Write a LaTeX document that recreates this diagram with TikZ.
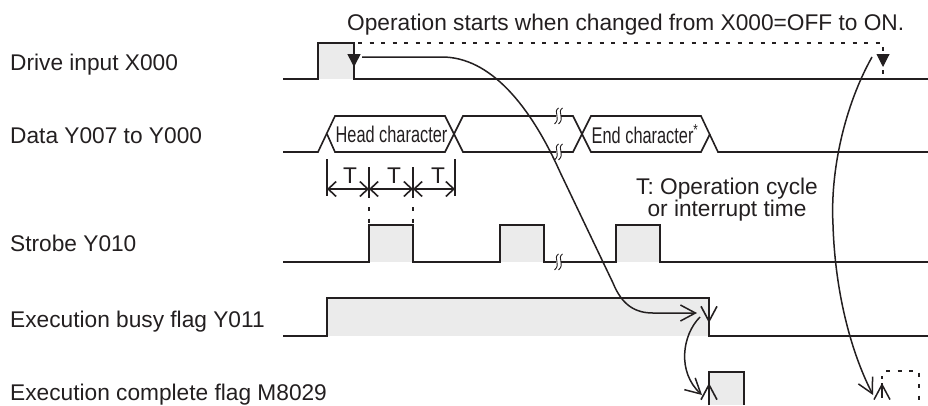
\documentclass[tikz,border=0pt]{standalone}
\usepackage{fontspec}
\setmainfont{Liberation Sans}
\usetikzlibrary{arrows.meta}
\definecolor{ink}{HTML}{231F20}
\definecolor{pulse}{HTML}{EBEBEB}
\tikzset{>={Straight Barb[length=15pt,width=16pt]}}

\begin{document}
\begin{tikzpicture}[x=1pt, y=-1pt, ink, font=\fontsize{22.7}{22}\selectfont]

  \tikzset{wave/.style={draw=ink, line width=1.6pt, line join=miter},
           flow/.style={draw=ink, line width=1.5pt},
           dots/.style={draw=ink, line width=1.3pt, dash pattern=on 4pt off 7.5pt},
           lbl/.style={anchor=base west, inner sep=0pt},
           narrow/.style={inner sep=0pt, xscale=0.72, transform shape},
           dim/.style={wave, {Straight Barb[length=8pt,width=15pt]}-{Straight Barb[length=8pt,width=15pt]}}}

  \useasboundingbox (0,0) rectangle (928,405);

  % grey pulses first, the levels go on top
  \foreach \xa/\xb/\ya/\yb in {318/354/43/79, 369/413/225/262, 500/544/225/262,
                               616/660/225/262, 327/709/298/336, 709/744/372/405} {
    \fill[pulse] (\xa,\ya) rectangle (\xb,\yb);
  }

  % signal names
  \node[lbl] (drive) at (10,70.5) {Drive input X000};
  \node[lbl] (data) at (10,143) {Data Y007 to Y000};
  \node[lbl] (strobe) at (10,251) {Strobe Y010};
  \node[lbl] (busy) at (10,327) {Execution busy flag Y011};
  \node[lbl] (done) at (10,400) {Execution complete flag M8029};

  % levels
  \draw[wave] (283,79) -- (318,79) -- (318,43) -- (354,43) -- (354,79) -- (928,79);
  \draw[wave] (283,262) -- (369,262) -- (369,225) -- (413,225) -- (413,262) -- (500,262)
    -- (500,225) -- (544,225) -- (544,262) -- (616,262) -- (616,225) -- (660,225)
    -- (660,262) -- (928,262);
  \draw[wave] (283,336) -- (327,336) -- (327,298) -- (709,298) -- (709,336) -- (928,336);
  \draw[wave] (709,405) -- (709,372) -- (744,372) -- (744,405);

  % data bus
  \draw[wave] (283,152) -- (318,152) -- (335,116) -- (445,116) -- (463,152) -- (573,152)
    -- (591,116) -- (701,116) -- (718,152) -- (928,152);
  \draw[wave] (327,134) -- (335,152) -- (445,152) -- (463,116) -- (573,116) -- (591,152)
    -- (701,152) -- (710,134);
  \node[narrow] (head) at (391.5,134) {Head character};
  \node[narrow] (tail) at (645,134) {End character\textsuperscript{*}};

  % the breaks
  \foreach \y in {116,152,262} {
    \fill[white] (556,\y-8) rectangle (561,\y+8);
    \foreach \d in {-2,2} {
      \draw[line width=0.9pt] (558.5+\d+2,\y-8) .. controls (558.5+\d-4,\y-4) and (558.5+\d+5,\y+2) .. (558.5+\d-2,\y+8);
    }
  }

  % T
  \coordinate (t0) at (327,189);
  \coordinate (t1) at (369,189);
  \coordinate (t2) at (413,189);
  \coordinate (t3) at (455,189);
  \draw[wave] (327,159) -- (327,196);
  \draw[wave] (369,167) -- (369,198);
  \draw[wave] (413,167) -- (413,198);
  \draw[wave] (455,159) -- (455,196);
  \draw[dim] (t0) -- (t1);
  \draw[dim] (t1) -- (t2);
  \draw[dim] (t2) -- (t3);
  \foreach \x/\n in {350/1, 394/2, 438/3} {
    \node[inner sep=0pt] (T\n) at (\x,176) {T};
  }
  \draw[dots] (369,207) -- (369,224);
  \draw[dots] (413,207) -- (413,224);
  \node[align=center, inner sep=0pt] (note) at (727,199.5) {T: Operation cycle\\or interrupt time};

  % first rising edge, dotted over to the next one
  \node[anchor=base west, inner sep=0pt] (start) at (347,30) {Operation starts when changed from X000=OFF to ON.};
  \draw[dots] (358,43) -- (883,43) -- (883,75);
  \fill[white] (876,53) rectangle (890,68);
  \draw[wave, -{Triangle[length=13pt,width=13pt]}] (354,50) -- (354,67);
  \draw[-{Triangle[length=13pt,width=13pt]}, line width=1pt, draw=ink] (883,53.5) -- (883,67);

  % the flow of the instruction
  \coordinate (from1) at (362,57);
  \coordinate (to1) at (697,313);
  \draw[flow, ->] (from1) -- (442,57) .. controls (490,57) and (530,105) .. (560,172)
    -- (613,283) .. controls (622,305) and (635,313) .. (653,313) -- (to1);
  \draw[wave, ->] (709,298) -- (709,323);

  \coordinate (from2) at (700,317);
  \coordinate (to2) at (702,395);
  \draw[flow, ->] (from2) .. controls (682,335) and (677,372) .. (to2);
  \draw[wave, ->] (709,405) -- (709,383);

  \coordinate (from3) at (872,57);
  \coordinate (to3) at (873,395);
  \draw[flow, ->] (from3) .. controls (845,105) and (830,170) .. (833,225)
    .. controls (835,290) and (850,350) .. (to3);

  % the next cycle, not run yet
  \draw[dots, dash pattern=on 3pt off 4pt] (882,376) -- (882,398);
  \draw[flow, ->] (882,398) -- (882,383);
  \draw[dots] (886,371) -- (919,371) -- (919,402);

\end{tikzpicture}
\end{document}
